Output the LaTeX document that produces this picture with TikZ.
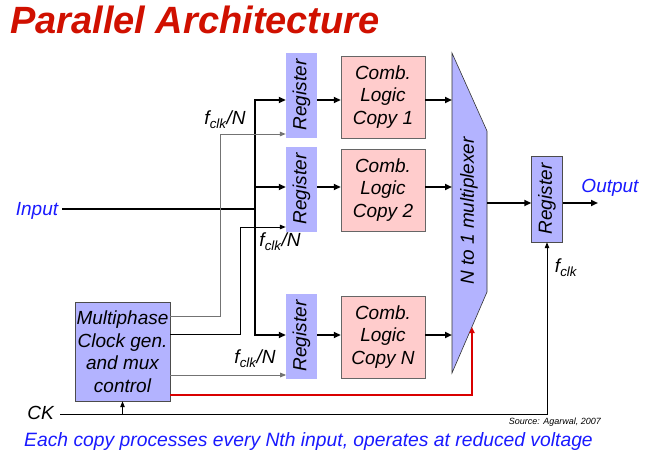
\documentclass[tikz,border=0pt]{standalone}
\usepackage{fontspec}
\setmainfont{Liberation Sans}
\usetikzlibrary{arrows.meta}
\definecolor{regblue}{RGB}{179,179,255}
\definecolor{combpink}{RGB}{255,204,204}
\definecolor{titlered}{RGB}{208,16,0}
\definecolor{textblue}{RGB}{26,26,255}
\begin{document}
\begin{tikzpicture}[x=1pt,y=-1pt,
    lab/.style={font=\itshape\fontsize{19}{22.5}\selectfont, inner sep=0pt},
    reg/.style={fill=regblue, minimum width=31pt, minimum height=85pt, inner sep=0pt, lab},
    comb/.style={fill=combpink, draw=black!60, minimum width=84pt, minimum height=82pt, align=center, lab},
    data/.style={line width=2.5pt, -{Triangle[length=7pt,width=6pt]}},
    clk/.style={line width=1pt, draw=black!55, -{Triangle[length=6pt,width=4.5pt]}},
    arr/.style={-{Triangle[length=6pt,width=4.5pt]}}]
    \useasboundingbox (0,0) rectangle (649,450);

    % Title
    \node[anchor=base west, inner sep=0pt, text=titlered, font=\bfseries\itshape\fontsize{38}{42}\selectfont] (title) at (10,33) {Parallel Architecture};

    % Registers
    \node[reg] (reg1) at (301.5,95) {\rotatebox{90}{Register}};
    \node[reg] (reg2) at (301.5,189) {\rotatebox{90}{Register}};
    \node[reg] (regN) at (301.5,336) {\rotatebox{90}{Register}};

    % Combinational logic copies
    \node[comb] (copy1) at (383,97) {Comb.\\Logic\\Copy 1};
    \node[comb] (copy2) at (383,190) {Comb.\\Logic\\Copy 2};
    \node[comb] (copyN) at (383,337) {Comb.\\Logic\\Copy N};

    % Multiplexer
    \coordinate (muxtl) at (452,53);
    \coordinate (muxtr) at (487,131);
    \coordinate (muxbr) at (487,292);
    \coordinate (muxbl) at (452,373);
    \draw[fill=regblue, draw=black!80, line width=0.6pt] (muxtl) -- (muxtr) -- (muxbr) -- (muxbl) -- cycle;
    \node[lab] (mux) at (469,211) {\rotatebox{90}{N to 1 multiplexer}};

    % Output register
    \node[reg, draw=black!70, minimum height=86pt] (regout) at (547,199) {\rotatebox{90}{Register}};

    % Clock generator
    \node[fill=regblue, draw=black!70, minimum width=95pt, minimum height=99pt, align=center, lab] (mpc) at (122.5,351.5) {Multiphase\\Clock gen.\\and mux\\control};

    % Input and bus
    \node[lab, text=textblue] (input) at (37,211) {Input};
    \coordinate (bus1) at (255,100);
    \coordinate (bus2) at (255,187);
    \coordinate (busN) at (255,335);
    \coordinate (jn) at (255,209);
    \draw[line width=2.5pt] ([xshift=4pt]input.east |- jn) -- (jn);
    \draw[data, {Triangle[length=7pt,width=6pt]}-{Triangle[length=7pt,width=6pt]}, line width=2.8pt] (bus1 -| reg1.west) -- (bus1) -- (busN) -- (busN -| regN.west);
    \draw[data] (bus2) -- (bus2 -| reg2.west);

    % Register to logic to mux
    \draw[data] (reg1.east |- bus1) -- (bus1 -| copy1.west);
    \draw[data] (reg2.east |- bus2) -- (bus2 -| copy2.west);
    \draw[data] (regN.east |- busN) -- (busN -| copyN.west);
    \draw[data] (copy1.east |- bus1) -- (bus1 -| muxtl);
    \draw[data] (copy2.east |- bus2) -- (bus2 -| muxtl);
    \draw[data] (copyN.east |- busN) -- (busN -| muxtl);

    % Output
    \coordinate (muxo) at (487,203);
    \draw[data] (muxo) -- (muxo -| regout.west);
    \coordinate (outend) at (598,203);
    \draw[data] (regout.east |- muxo) -- (outend);
    \node[lab, text=textblue] (output) at (610,188) {Output};

    % Clock lines
    \coordinate (k1) at (220,134);
    \coordinate (k2) at (240,227);
    \draw[clk] ([yshift=35.5pt]mpc.east) -| (k1) -- (k1 -| reg1.west);
    \draw[clk, draw=black] ([yshift=17.5pt]mpc.east) -| (k2) -- (k2 -| reg2.west);
    \draw[clk] ([yshift=-23.5pt]mpc.east) -- ++(116,0) coordinate (k3);
    \node[lab] (f1) at (225,120) {f\textsubscript{clk}/N};
    \node[lab] (f2) at (280,242) {f\textsubscript{clk}/N};
    \node[lab] (f3) at (255,359) {f\textsubscript{clk}/N};

    % Mux select
    \coordinate (muxsel) at (472,327);
    \draw[line width=2pt, draw=red!85!black, -{Triangle[length=6pt,width=5pt]}] ([yshift=-43.5pt]mpc.east) -| (muxsel);

    % CK
    \node[lab, anchor=east] (ck) at (54,413) {CK};
    \coordinate (ckline) at (60,414);
    \draw[arr, line width=0.9pt] (ckline) -| (regout.south);
    \draw[arr, line width=0.9pt] (mpc.south |- ckline) -- (mpc.south);
    \node[lab] (fclk) at (566,268) {f\textsubscript{clk}};

    % Notes
    \node[anchor=base east, inner sep=0pt, font=\itshape\fontsize{9}{10}\selectfont] (source) at (601,424) {Source: Agarwal, 2007};
    \node[anchor=base west, inner sep=0pt, text=textblue, font=\itshape\fontsize{19.3}{22}\selectfont] (note) at (24,446) {Each copy processes every Nth input, operates at reduced voltage};
\end{tikzpicture}
\end{document}
